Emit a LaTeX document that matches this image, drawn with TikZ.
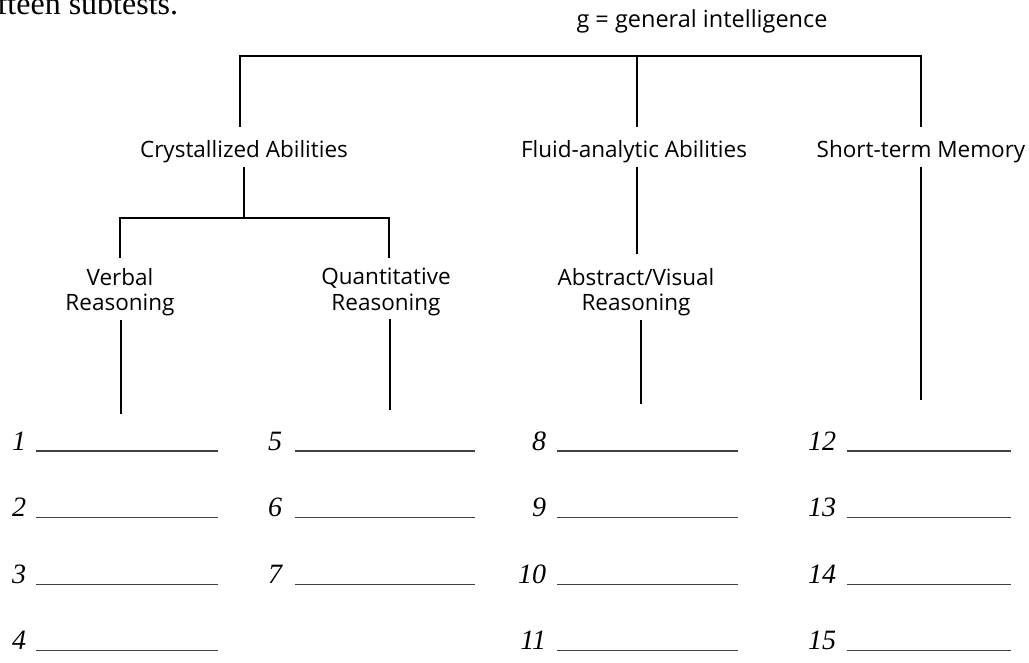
\documentclass[tikz,border=0pt]{standalone}
\usepackage{fontspec}
\setmainfont{Liberation Serif}
\newfontfamily\labelfont{Open Sans}
\usepackage{tikz}

\begin{document}
\begin{tikzpicture}[x=1pt,y=-1pt,line width=1.6pt,
    lbl/.style={font=\labelfont\fontsize{22.5}{25.5}\selectfont, inner sep=2pt, outer sep=2pt, align=center},
    num/.style={font=\fontsize{28}{30}\selectfont\itshape, anchor=base east, inner sep=0pt},
    blank/.style={line width=1.3pt, draw=black!75}]
    \useasboundingbox (0,0) rectangle (1029,663);
    \node[anchor=base west, inner sep=0pt, font=\fontsize{32}{34}\selectfont] (intro) at (-4,15) {fteen subtests.};

    % top level
    \node[lbl, anchor=base, font=\labelfont\fontsize{23.5}{25.5}\selectfont] (g) at (702,28) {g = general intelligence};
    \coordinate (t1) at (240,56);
    \coordinate (t2) at (637,56);
    \coordinate (t3) at (921,56);
    \node[lbl, anchor=base] (crystal) at (244,158) {Crystallized Abilities};
    \node[lbl, anchor=base] (fluid) at (634,158) {Fluid-analytic Abilities};
    \node[lbl, anchor=base] (stm) at (921,158) {Short-term Memory};
    \draw[shorten <=10pt, shorten >=10pt] (t1 |- crystal.north) -- (t1) -- (t3) -- (t3 |- stm.north);
    \draw[shorten >=10pt] (t2) -- (t2 |- fluid.north);

    % second level
    \coordinate (v0) at (120,218);
    \coordinate (q0) at (389,218);
    \node[lbl, anchor=north] (verbal) at (120,264) {Verbal\\Reasoning};
    \node[lbl, anchor=north] (quant) at (386,264) {Quantitative\\Reasoning};
    \node[lbl, anchor=north] (abstract) at (636,264) {Abstract/Visual\\Reasoning};
    \draw (crystal.south) -- (crystal.south |- v0);
    \draw[shorten <=6pt, shorten >=6pt] (v0 |- verbal.north) -- (v0) -- (q0) -- (q0 |- quant.north);
    \draw[shorten >=10pt] (t2 |- fluid.south) -- (t2 |- abstract.north);

    % down to the subtests
    \coordinate (vend) at (121,414);
    \coordinate (qend) at (390,410);
    \coordinate (aend) at (641,404);
    \coordinate (send) at (921,400);
    \draw (vend |- verbal.south) -- (vend);
    \draw (qend |- quant.south) -- (qend);
    \draw (aend |- abstract.south) -- (aend);
    \draw (stm.south) -- (send);

    \foreach \xd/\xa/\xb/\first/\last in {27/36/218/1/4, 283/295/475/5/7, 547/557/738/8/11, 837/847/1011/12/15}{
      \foreach \n in {\first,...,\last}{
        \pgfmathsetmacro\yy{450+66.6*(\n-\first)}
        \node[num] (n\n) at (\xd,\yy) {\n};
        \draw[blank] (\xa,\yy+1) -- (\xb,\yy+1);
      }
    }
\end{tikzpicture}
\end{document}
